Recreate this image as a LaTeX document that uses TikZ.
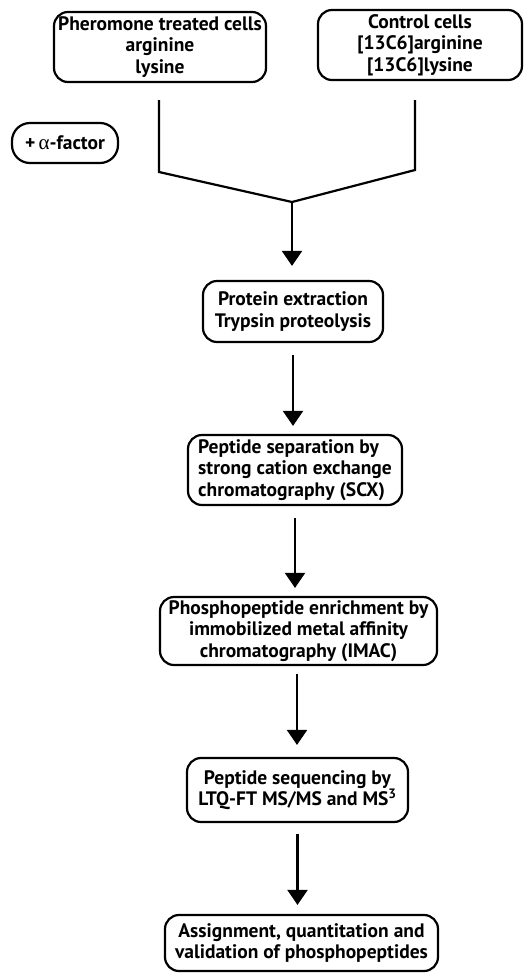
\documentclass[tikz,border=0pt]{standalone}
\usepackage{fontspec}
\setmainfont{PT Sans}
\newfontfamily\grk{Liberation Serif}
\usetikzlibrary{arrows.meta}
\begin{document}
\begin{tikzpicture}[x=1pt,y=-1pt,
  box/.style={draw,line width=2.2pt,rounded corners=14pt,inner sep=0pt,align=center,
    font=\fontsize{19.5}{21.5}\selectfont\bfseries},
  arr/.style={line width=2.2pt,-{Triangle[width=20pt,length=15pt]}},
  conn/.style={line width=2.2pt}]
\useasboundingbox (0,0) rectangle (525,975);
\node[box,minimum width=212pt,minimum height=70pt] (b1) at (160,47)
  {Pheromone treated cells\\arginine\\lysine};
\node[box,minimum width=204pt,minimum height=70pt] (b2) at (420,45)
  {Control cells\\{[}13C6{]}arginine\\{[}13C6{]}lysine};
\node[box,minimum width=106pt,minimum height=40pt,rounded corners=18pt] (af) at (65,143)
  {+\,{\grk\mdseries\fontsize{21}{21}\selectfont α}-factor};
\node[box,minimum width=180pt,minimum height=61pt] (pe) at (293,311.5)
  {Protein extraction\\Trypsin proteolysis};
\node[box,minimum width=214pt,minimum height=70pt,align=left] (scx) at (295,470)
  {Peptide separation by\\strong cation exchange\\chromatography (SCX)};
\node[box,minimum width=277pt,minimum height=68pt] (imac) at (298.5,631)
  {Phosphopeptide enrichment by\\immobilized metal affinity\\chromatography (IMAC)};
\node[box,minimum width=221pt,minimum height=64pt] (ltq) at (297.5,790)
  {Peptide sequencing by\\LTQ-FT MS/MS and MS\textsuperscript{3}};
\node[box,minimum width=273pt,minimum height=56pt] (fin) at (301.5,943)
  {Assignment, quantitation and\\validation of phosphopeptides};
\coordinate (l1) at (159,100);
\coordinate (l2) at (159,172);
\coordinate (r1) at (415,100);
\coordinate (r2) at (415,170);
\coordinate (m) at (292,202);
\draw[conn,line join=miter] (l1) -- (l2) -- (m) -- (r2) -- (r1);
\draw[arr,shorten >=14pt] (m) -- (m |- pe.north);
\draw[arr,shorten <=12pt,shorten >=8pt] (pe.south) -- (pe.south |- scx.north);
\draw[arr,shorten <=12pt,shorten >=8pt] (scx.south) -- (scx.south |- imac.north);
\draw[arr,shorten <=8pt,shorten >=12pt] ([xshift=-1.5pt]imac.south) -- ([xshift=-1.5pt]imac.south |- ltq.north);
\draw[arr,shorten <=11pt,shorten >=9pt] (ltq.south) -- (ltq.south |- fin.north);
\end{tikzpicture}
\end{document}
